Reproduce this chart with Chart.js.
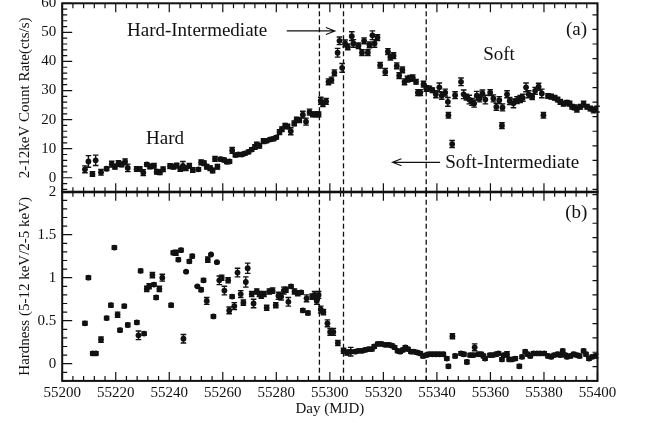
<!DOCTYPE html>
<html>
<head>
<meta charset="utf-8">
<script src="https://cdn.jsdelivr.net/npm/chart.js@4.4.1/dist/chart.umd.min.js"></script>
<style>
  html, body { margin: 0; padding: 0; background: #fff; }
  #wrap { position: relative; width: 647px; height: 423px; }
  canvas { position: absolute; left: 0; top: 0; }
</style>
</head>
<body>
<div id="wrap">
  <canvas id="rate" width="647" height="423"></canvas>
  <canvas id="hard" width="647" height="423"></canvas>
</div>
<script>
// ---- data ----
const dayTicks = [55200, 55220, 55240, 55260, 55280, 55300, 55320, 55340, 55360, 55380, 55400];
const rateTicks = [0, 10, 20, 30, 40, 50, 60];
const hardTicks = [0, 0.5, 1, 1.5, 2];
const stateLines = [55296.1, 55305.1, 55336.0];

// panel (a): 2-12 keV count rate
const daysA = [55208.5, 55209.8, 55211.3, 55212.5, 55214.5, 55216.6, 55218.5, 55219.7, 55221.0, 55222.2,
  55223.5, 55224.5, 55227.8, 55229.0, 55230.3, 55231.6, 55232.8, 55234.3, 55235.3, 55236.5,
  55237.7, 55240.3, 55241.6, 55242.8, 55244.1, 55245.1, 55246.2, 55247.5, 55248.8, 55250.9,
  55251.9, 55253.0, 55254.0, 55255.3, 55256.2, 55257.1, 55258.0, 55259.2, 55260.5, 55261.5,
  55262.5, 55263.5, 55264.7, 55265.8, 55267.1, 55268.3, 55269.6, 55270.8, 55272.0, 55272.7,
  55273.7, 55275.2, 55276.4, 55277.7, 55279.0, 55280.0, 55281.2, 55282.1, 55283.3, 55284.2,
  55285.4, 55286.7, 55287.6, 55288.6, 55289.9, 55291.1, 55292.4, 55293.6, 55294.8, 55295.8,
  55296.6, 55297.4, 55298.6, 55299.5, 55300.6, 55301.7, 55302.9, 55303.6, 55304.6, 55305.7,
  55306.7, 55308.2, 55308.8, 55310.7, 55312.0, 55312.8, 55314.2, 55314.8, 55315.9, 55316.7,
  55317.8, 55318.8, 55320.7, 55321.7, 55322.6, 55323.8, 55325.0, 55325.9, 55327.1, 55327.9,
  55329.0, 55330.0, 55331.0, 55332.2, 55332.9, 55333.8, 55335.0, 55336.0, 55337.2, 55338.3,
  55339.6, 55340.9, 55341.8, 55343.1, 55344.1, 55344.3, 55345.7, 55346.8, 55349.0, 55350.0,
  55351.0, 55352.1, 55353.1, 55353.9, 55354.9, 55355.9, 55357.0, 55358.1, 55359.9, 55361.1,
  55362.2, 55363.3, 55364.3, 55364.5, 55366.2, 55367.2, 55368.6, 55369.9, 55371.1, 55372.1,
  55373.3, 55374.3, 55375.6, 55376.7, 55378.0, 55379.2, 55379.8, 55381.5, 55382.7, 55384.0,
  55385.1, 55386.1, 55387.3, 55388.6, 55389.6, 55390.5, 55391.5, 55392.3, 55393.6, 55394.8,
  55396.1, 55397.3, 55398.5, 55399.8];
const rateA = [2.9, 5.6, 1.3, 6.0, 1.9, 3.1, 4.7, 3.8, 4.9, 4.6,
  5.5, 3.4, 3.0, 3.0, 1.8, 4.6, 3.9, 4.1, 2.1, 1.9,
  2.9, 4.0, 3.8, 4.2, 3.0, 4.1, 3.3, 4.1, 2.7, 2.9,
  5.3, 5.0, 3.8, 3.3, 2.5, 6.5, 3.8, 6.4, 6.1, 5.5,
  5.6, 9.4, 7.8, 8.0, 8.0, 8.4, 8.9, 9.7, 10.6, 11.4,
  11.0, 12.6, 12.7, 13.2, 13.4, 13.9, 15.7, 16.7, 17.9, 17.6,
  16.0, 18.7, 20.0, 19.8, 21.7, 19.3, 22.6, 21.8, 21.8, 21.8,
  26.5, 25.5, 26.3, 33.0, 33.6, 36.1, 43.0, 47.1, 37.8, 46.2,
  45.0, 48.7, 46.2, 45.4, 43.0, 47.1, 43.0, 45.7, 49.0, 46.2,
  48.2, 38.7, 36.4, 43.4, 41.5, 42.0, 38.5, 35.1, 37.1, 33.0,
  33.9, 34.2, 34.4, 33.0, 29.3, 29.3, 32.2, 30.7, 30.7, 30.1,
  28.7, 31.1, 28.2, 29.3, 26.1, 21.5, 11.6, 28.4, 33.0, 28.7,
  27.7, 26.9, 26.1, 25.5, 28.2, 27.3, 29.0, 26.9, 29.3, 27.3,
  24.4, 26.7, 17.9, 24.2, 28.7, 26.4, 25.6, 26.7, 27.1, 27.5,
  31.1, 28.7, 27.9, 29.9, 31.3, 29.0, 21.5, 28.1, 27.9, 27.5,
  26.9, 26.1, 25.5, 25.8, 25.5, 24.4, 24.2, 23.6, 24.4, 25.3,
  24.4, 23.8, 23.3, 23.6];
const errA = [1.2, 2.0, 0.8, 1.8, 1.0, 0.6, 1.0, 0.8, 1.0, 0.8,
  1.0, 1.3, 0.8, 0.8, 1.0, 0.6, 0.8, 0.8, 0.8, 0.8,
  0.8, 0.8, 0.8, 0.8, 0.8, 1.5, 0.8, 0.8, 0.8, 0.6,
  0.8, 0.8, 0.8, 0.8, 0.8, 0.8, 0.8, 0.6, 0.6, 0.6,
  0.6, 1.0, 0.6, 0.6, 0.6, 0.6, 0.6, 0.6, 0.8, 0.8,
  0.8, 0.8, 0.6, 0.6, 0.6, 0.6, 0.8, 0.8, 0.8, 0.8,
  1.2, 0.8, 0.8, 0.8, 1.2, 1.2, 1.0, 0.8, 0.8, 0.8,
  1.2, 1.0, 1.0, 1.0, 1.0, 1.0, 1.5, 1.3, 1.5, 1.2,
  1.0, 1.5, 1.3, 1.0, 1.0, 1.0, 1.0, 1.0, 1.5, 1.3,
  1.0, 1.0, 1.2, 1.0, 1.0, 1.0, 1.0, 1.0, 1.0, 1.0,
  1.0, 1.0, 1.0, 0.8, 1.0, 1.0, 1.0, 1.0, 0.8, 0.8,
  1.2, 1.5, 1.2, 1.2, 1.5, 1.0, 1.2, 1.2, 1.3, 1.5,
  1.0, 1.5, 1.2, 1.2, 1.5, 1.2, 1.2, 1.5, 1.0, 1.2,
  1.2, 1.2, 1.0, 1.2, 1.2, 1.2, 1.5, 1.2, 1.2, 1.2,
  1.5, 1.2, 1.0, 1.2, 1.2, 1.5, 1.0, 0.8, 0.8, 0.8,
  0.8, 0.8, 0.8, 0.8, 0.8, 0.8, 0.8, 1.0, 0.8, 1.0,
  0.8, 0.8, 1.0, 1.0];

// panel (b): hardness ratio (5-12 keV / 2-5 keV)
const daysB = [55208.5, 55209.8, 55211.4, 55212.6, 55214.5, 55216.6, 55218.2, 55219.5, 55220.7, 55221.6,
  55223.2, 55224.5, 55227.9, 55228.5, 55229.3, 55230.6, 55231.6, 55232.5, 55233.7, 55234.3,
  55235.1, 55236.3, 55237.4, 55240.7, 55241.5, 55242.5, 55243.4, 55244.4, 55245.3, 55246.3,
  55247.5, 55248.6, 55250.5, 55251.9, 55252.8, 55254.0, 55254.4, 55255.6, 55256.5, 55257.8,
  55258.7, 55259.6, 55260.6, 55262.0, 55262.4, 55263.5, 55264.3, 55265.5, 55266.7, 55267.7,
  55268.6, 55269.3, 55270.8, 55271.5, 55272.7, 55273.7, 55274.4, 55275.4, 55276.4, 55277.4,
  55278.6, 55279.8, 55280.8, 55281.8, 55282.8, 55283.6, 55284.5, 55285.5, 55286.8, 55288.0,
  55289.3, 55289.9, 55291.3, 55291.8, 55293.4, 55294.3, 55295.1, 55295.8, 55296.6, 55297.6,
  55299.1, 55300.1, 55301.3, 55303.0, 55305.1, 55306.4, 55307.8, 55309.5, 55310.7, 55312.0,
  55313.2, 55314.5, 55315.7, 55316.6, 55317.9, 55319.2, 55320.7, 55322.0, 55323.2, 55324.2,
  55325.3, 55326.3, 55327.3, 55328.2, 55329.2, 55330.3, 55331.3, 55332.6, 55333.8, 55334.8,
  55336.0, 55337.1, 55338.4, 55339.7, 55341.0, 55342.4, 55343.7, 55344.3, 55345.8, 55346.8,
  55349.0, 55350.1, 55351.2, 55352.4, 55353.6, 55354.1, 55355.5, 55356.6, 55357.4, 55358.0,
  55359.8, 55360.8, 55362.1, 55363.0, 55364.3, 55365.0, 55366.2, 55367.0, 55368.0, 55369.3,
  55370.8, 55371.8, 55373.0, 55373.9, 55374.9, 55376.1, 55377.4, 55378.6, 55380.1, 55381.5,
  55382.7, 55383.8, 55385.1, 55386.1, 55387.0, 55388.0, 55388.6, 55389.9, 55391.1, 55392.3,
  55393.3, 55394.8, 55395.7, 55396.8, 55398.0, 55399.3];
const hardB = [0.47, 1.00, 0.12, 0.12, 0.28, 0.53, 0.68, 1.35, 0.57, 0.39,
  0.67, 0.45, 0.48, 0.33, 1.08, 0.35, 0.87, 0.90, 1.03, 0.92,
  0.77, 0.87, 1.00, 0.68, 1.29, 1.29, 1.21, 1.32, 0.29, 1.07,
  1.19, 1.25, 0.90, 0.86, 0.97, 0.73, 1.21, 1.27, 0.55, 1.18,
  0.97, 1.00, 0.85, 0.97, 0.62, 0.78, 0.67, 1.06, 0.81, 0.71,
  0.95, 1.11, 0.81, 0.70, 0.84, 0.81, 0.79, 0.81, 0.65, 0.84,
  0.85, 0.68, 0.79, 0.78, 0.85, 0.86, 0.72, 0.90, 0.84, 0.82,
  0.83, 0.62, 0.76, 0.59, 0.78, 0.80, 0.73, 0.80, 0.63, 0.60,
  0.47, 0.37, 0.37, 0.24, 0.15, 0.13, 0.14, 0.14, 0.15, 0.15,
  0.16, 0.17, 0.17, 0.20, 0.23, 0.23, 0.22, 0.22, 0.21, 0.19,
  0.15, 0.14, 0.16, 0.19, 0.17, 0.14, 0.14, 0.13, 0.12, 0.09,
  0.10, 0.11, 0.11, 0.11, 0.11, 0.11, 0.06, -0.03, 0.32, 0.09,
  0.12, 0.11, 0.02, 0.10, 0.10, 0.19, 0.11, 0.11, 0.09, 0.06,
  0.10, 0.10, 0.11, 0.12, 0.05, 0.10, 0.11, 0.05, 0.05, 0.06,
  -0.03, 0.08, 0.14, 0.11, 0.09, 0.12, 0.12, 0.12, 0.12, 0.09,
  0.08, 0.10, 0.11, 0.10, 0.15, 0.10, 0.08, 0.09, 0.11, 0.10,
  0.09, 0.15, 0.11, 0.06, 0.08, 0.09];
const errB = [0.02, 0.02, 0.02, 0.02, 0.03, 0.02, 0.02, 0.02, 0.03, 0.02,
  0.02, 0.02, 0.02, 0.05, 0.02, 0.02, 0.03, 0.03, 0.03, 0.02,
  0.02, 0.03, 0.04, 0.02, 0.02, 0.03, 0.02, 0.02, 0.05, 0.01,
  0.02, 0.02, 0.01, 0.02, 0.02, 0.04, 0.03, 0.01, 0.02, 0.01,
  0.05, 0.03, 0.05, 0.03, 0.04, 0.02, 0.04, 0.05, 0.04, 0.03,
  0.06, 0.06, 0.03, 0.05, 0.03, 0.03, 0.03, 0.03, 0.03, 0.03,
  0.03, 0.03, 0.04, 0.04, 0.04, 0.03, 0.05, 0.02, 0.03, 0.03,
  0.02, 0.02, 0.04, 0.02, 0.03, 0.04, 0.04, 0.04, 0.04, 0.03,
  0.04, 0.04, 0.04, 0.03, 0.03, 0.03, 0.05, 0.02, 0.02, 0.02,
  0.02, 0.02, 0.02, 0.02, 0.02, 0.02, 0.02, 0.02, 0.02, 0.02,
  0.02, 0.02, 0.02, 0.02, 0.02, 0.02, 0.02, 0.02, 0.02, 0.02,
  0.02, 0.02, 0.02, 0.02, 0.02, 0.02, 0.02, 0.02, 0.03, 0.02,
  0.02, 0.02, 0.02, 0.02, 0.02, 0.04, 0.02, 0.02, 0.02, 0.02,
  0.02, 0.02, 0.02, 0.02, 0.02, 0.02, 0.03, 0.02, 0.02, 0.02,
  0.02, 0.02, 0.02, 0.02, 0.02, 0.02, 0.02, 0.02, 0.02, 0.02,
  0.02, 0.02, 0.02, 0.02, 0.02, 0.02, 0.02, 0.02, 0.02, 0.02,
  0.02, 0.02, 0.02, 0.02, 0.02, 0.02];

// ---- drawing helpers ----
const SERIF = "'Liberation Serif', 'Times New Roman', serif";
const INK = '#111';

function toPoints(xs, ys) {
  return xs.map((d, i) => ({ x: d, y: ys[i] }));
}

// error bars + state boundaries, under the markers
const errorBars = {
  id: 'errorBars',
  beforeDatasetsDraw(chart, args, opts) {
    const { ctx, chartArea: a, scales: { x, y } } = chart;
    ctx.save();
    // dashed state lines
    ctx.strokeStyle = INK;
    ctx.lineWidth = 1.3;
    ctx.setLineDash([5, 3]);
    stateLines.forEach(d => {
      const px = x.getPixelForValue(d);
      ctx.beginPath();
      ctx.moveTo(px, a.top);
      ctx.lineTo(px, a.bottom);
      ctx.stroke();
    });
    ctx.setLineDash([]);
    // error bars
    ctx.lineWidth = 1.4;
    opts.xs.forEach((d, i) => {
      const px = x.getPixelForValue(d);
      const lo = y.getPixelForValue(opts.ys[i] - opts.err[i]);
      const hi = y.getPixelForValue(opts.ys[i] + opts.err[i]);
      ctx.beginPath();
      ctx.moveTo(px, lo); ctx.lineTo(px, hi);
      ctx.moveTo(px - 2.8, lo); ctx.lineTo(px + 2.8, lo);
      ctx.moveTo(px - 2.8, hi); ctx.lineTo(px + 2.8, hi);
      ctx.stroke();
    });
    ctx.restore();
  }
};

// frame with inward ticks + text labels
const frame = {
  id: 'frame',
  afterDraw(chart, args, opts) {
    const { ctx, chartArea: a, scales: { x, y } } = chart;
    ctx.save();
    ctx.strokeStyle = INK;
    ctx.lineWidth = 1.2;
    ctx.beginPath();
    // x ticks, every 4 days, major every 20
    for (let k = 0; k <= 50; k++) {
      const px = x.getPixelForValue(55200 + 4 * k);
      const len = k % 5 === 0 ? 9 : 5;
      ctx.moveTo(px, a.top); ctx.lineTo(px, a.top + len);
      ctx.moveTo(px, a.bottom); ctx.lineTo(px, a.bottom - len);
    }
    // y ticks on the left and right
    const n = Math.round((opts.top - opts.bottom) / opts.leftMinor);
    for (let k = 0; k <= n; k++) {
      const v = opts.bottom + k * opts.leftMinor;
      if (v < y.min - 1e-9 || v > y.max + 1e-9) continue;
      const py = y.getPixelForValue(v);
      const major = Math.abs(v / opts.major - Math.round(v / opts.major)) < 1e-6;
      ctx.moveTo(a.left, py); ctx.lineTo(a.left + (major ? 10 : 5), py);
    }
    const m = Math.round((opts.top - opts.bottom) / opts.rightMinor);
    for (let k = 0; k <= m; k++) {
      const v = opts.bottom + k * opts.rightMinor;
      if (v < y.min - 1e-9 || v > y.max + 1e-9) continue;
      const py = y.getPixelForValue(v);
      const major = Math.abs(v / opts.major - Math.round(v / opts.major)) < 1e-6;
      ctx.moveTo(a.right, py); ctx.lineTo(a.right - (major ? 10 : 5), py);
    }
    ctx.stroke();
    ctx.lineWidth = 2;
    ctx.strokeRect(a.left, a.top, a.right - a.left, a.bottom - a.top);

    // labels
    ctx.fillStyle = INK;
    ctx.font = '19px ' + SERIF;
    ctx.textBaseline = 'middle';
    (opts.notes || []).forEach(t => {
      ctx.textAlign = t.align || 'left';
      ctx.fillText(t.text, x.getPixelForValue(t.x), y.getPixelForValue(t.y));
    });
    // arrows (open heads)
    ctx.lineWidth = 1.1;
    (opts.arrows || []).forEach(ar => {
      const x0 = x.getPixelForValue(ar.from), x1 = x.getPixelForValue(ar.to);
      const py = y.getPixelForValue(ar.y);
      const dir = x1 > x0 ? 1 : -1;
      ctx.beginPath();
      ctx.moveTo(x0, py); ctx.lineTo(x1, py);
      ctx.moveTo(x1 - dir * 9, py - 3.5); ctx.lineTo(x1, py); ctx.lineTo(x1 - dir * 9, py + 3.5);
      ctx.stroke();
    });
    ctx.restore();
  }
};

function baseOptions(padTop, padBottom, xHeight) {
  return {
    responsive: false,
    animation: false,
    layout: { autoPadding: false, padding: { left: 0, right: 49.5, top: padTop, bottom: padBottom } },
    plugins: { legend: { display: false }, tooltip: { enabled: false } },
    scales: {
      x: {
        type: 'linear', min: 55200, max: 55400,
        afterBuildTicks: s => { s.ticks = dayTicks.map(v => ({ value: v })); },
        afterFit: s => { s.height = xHeight; s.paddingLeft = 0; s.paddingRight = 0; },
        grid: { display: false, drawTicks: false },
        border: { display: false },
        ticks: { display: false, color: INK, padding: 3, font: { family: SERIF, size: 15 }, callback: v => String(v) },
        title: { display: false }
      }
    }
  };
}

// ---- panel (a) ----
const optA = baseOptions(3.3, 230.7, 0);
optA.scales.y = {
  type: 'linear', min: -5, max: 60,
  afterBuildTicks: s => { s.ticks = rateTicks.map(v => ({ value: v })); },
  afterFit: s => { s.width = 62.2; s.paddingTop = 0; s.paddingBottom = 0; },
  grid: { display: false, drawTicks: false },
  border: { display: false },
  ticks: { color: INK, padding: 6, font: { family: SERIF, size: 15 }, callback: v => String(v) },
  title: { display: true, text: '2-12keV Count Rate(cts/s)', color: INK, padding: { top: 16 }, font: { family: SERIF, size: 15 } }
};
optA.plugins.errorBars = { xs: daysA, ys: rateA, err: errA };
optA.plugins.frame = {
  bottom: -4, top: 60, leftMinor: 2, rightMinor: 5, major: 10,
  notes: [
    { text: 'Hard-Intermediate', x: 55224.2, y: 50.4 },
    { text: '(a)', x: 55396.1, y: 50.8, align: 'right' },
    { text: 'Soft', x: 55357.3, y: 42.2 },
    { text: 'Hard', x: 55231.3, y: 13.3 },
    { text: 'Soft-Intermediate', x: 55343.1, y: 5.1 }
  ],
  arrows: [
    { from: 55283.9, to: 55301.9, y: 50.5 },
    { from: 55341.2, to: 55323.4, y: 5.3 }
  ]
};

new Chart(document.getElementById('rate'), {
  type: 'scatter',
  data: { datasets: [{ data: toPoints(daysA, rateA), backgroundColor: INK, borderColor: INK, pointRadius: 2.9, pointBorderWidth: 0 }] },
  options: optA,
  plugins: [errorBars, frame]
});

// ---- panel (b) ----
const optB = baseOptions(191.7, 0, 42.1);
optB.scales.x.ticks.display = true;
optB.scales.x.title = { display: true, text: 'Day (MJD)', color: INK, padding: { bottom: 5 }, font: { family: SERIF, size: 15 } };
optB.scales.y = {
  type: 'linear', min: -0.2, max: 2,
  afterBuildTicks: s => { s.ticks = hardTicks.map(v => ({ value: v })); },
  afterFit: s => { s.width = 62.2; s.paddingTop = 0; s.paddingBottom = 0; },
  grid: { display: false, drawTicks: false },
  border: { display: false },
  ticks: { color: INK, padding: 6, font: { family: SERIF, size: 15 }, callback: v => String(v) },
  title: { display: true, text: 'Hardness (5-12 keV/2-5 keV)', color: INK, padding: { top: 16 }, font: { family: SERIF, size: 15 } }
};
optB.plugins.errorBars = { xs: daysB, ys: hardB, err: errB };
optB.plugins.frame = {
  bottom: -0.2, top: 2, leftMinor: 0.1, rightMinor: 0.5 / 3, major: 0.5,
  notes: [{ text: '(b)', x: 55396.2, y: 1.75, align: 'right' }],
  arrows: []
};

new Chart(document.getElementById('hard'), {
  type: 'scatter',
  data: { datasets: [{ data: toPoints(daysB, hardB), backgroundColor: INK, borderColor: INK, pointRadius: 2.9, pointBorderWidth: 0 }] },
  options: optB,
  plugins: [errorBars, frame]
});
</script>
</body>
</html>
